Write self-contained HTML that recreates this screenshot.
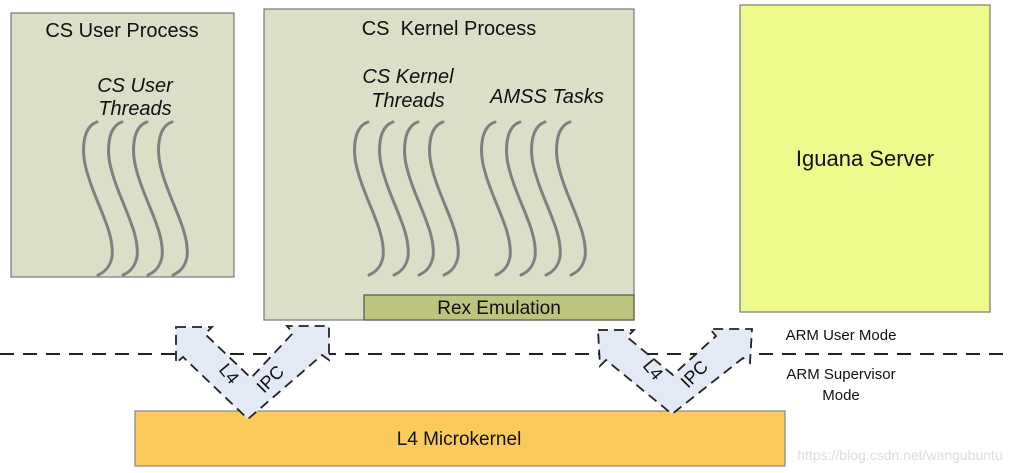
<!DOCTYPE html>
<html><head><meta charset="utf-8"><style>
html,body{margin:0;padding:0;background:#fff;width:1016px;height:473px;overflow:hidden}
svg text{font-family:"Liberation Sans",sans-serif;fill:#111}
</style></head><body>
<svg width="1016" height="473" viewBox="0 0 1016 473" xmlns="http://www.w3.org/2000/svg">
<defs>
<path id="sq" d="M0,0 C-15,5 -16,30 -10,50 C-2,80 18,110 15,135 C13,145 8,150 1,153" fill="none" stroke="#808080" stroke-width="3" stroke-linecap="round"/>
</defs>
<rect x="11" y="13" width="223" height="264" fill="#dbdfc7" stroke="#777" stroke-width="1.2"/>
<rect x="264" y="9" width="370" height="311" fill="#dbdfc7" stroke="#777" stroke-width="1.2"/>
<rect x="364" y="295" width="270" height="25" fill="#bcc47e" stroke="#555" stroke-width="1.2"/>
<rect x="740" y="5" width="250" height="307" fill="#eefa8c" stroke="#777" stroke-width="1.2"/>
<rect x="135" y="411" width="650" height="55" fill="#fbca5c" stroke="#888" stroke-width="1.2"/>
<line x1="0" y1="354" x2="1012" y2="354" stroke="#222" stroke-width="2" stroke-dasharray="14,9"/>

<text x="122" y="37" font-size="20" text-anchor="middle">CS User Process</text>
<text x="135" y="92" font-size="20" font-style="italic" text-anchor="middle">CS User</text>
<text x="135" y="115" font-size="20" font-style="italic" text-anchor="middle">Threads</text>
<text x="449" y="35" font-size="20" text-anchor="middle" xml:space="preserve">CS  Kernel Process</text>
<text x="408" y="83" font-size="20" font-style="italic" text-anchor="middle">CS Kernel</text>
<text x="408" y="107" font-size="20" font-style="italic" text-anchor="middle">Threads</text>
<text x="547" y="103" font-size="20" font-style="italic" text-anchor="middle">AMSS Tasks</text>
<text x="499" y="314" font-size="19" text-anchor="middle">Rex Emulation</text>
<text x="865" y="166" font-size="22" text-anchor="middle">Iguana Server</text>
<text x="459" y="445" font-size="19" text-anchor="middle">L4 Microkernel</text>
<text x="841" y="340" font-size="15" text-anchor="middle">ARM User Mode</text>
<text x="841" y="379" font-size="15" text-anchor="middle">ARM Supervisor</text>
<text x="841" y="400" font-size="15" text-anchor="middle">Mode</text>
<text x="900" y="460" font-size="14" text-anchor="middle" style="fill:#ddd">https://blog.csdn.net/wangubuntu</text>

<g>
<use href="#sq" x="97" y="122"/><use href="#sq" x="122" y="122"/><use href="#sq" x="147" y="122"/><use href="#sq" x="172" y="122"/>
<use href="#sq" x="368" y="122"/><use href="#sq" x="393" y="122"/><use href="#sq" x="418" y="122"/><use href="#sq" x="443" y="122"/>
<use href="#sq" x="495" y="122"/><use href="#sq" x="520" y="122"/><use href="#sq" x="545" y="122"/><use href="#sq" x="570" y="122"/>
</g>

<g fill="#e3e9f5" stroke="#222" stroke-width="1.8" stroke-dasharray="10,6">
<polygon points="176,327 212,327 205,334 251,378 293,333 287,326 329,326 329,360 322,355 248,419 183,357 176,363"/>
<polygon points="598,330 634,330 627,337 673,375 716,336 710,329 752,329 750,363 743,358 672,414 606,360 600,366"/>
</g>
<text font-size="18" transform="translate(218,370) rotate(50)">L4</text>
<text font-size="18" transform="translate(264,394) rotate(-45)">IPC</text>
<text font-size="18" transform="translate(642,366) rotate(50)">L4</text>
<text font-size="18" transform="translate(688,389) rotate(-45)">IPC</text>
</svg>
</body></html>
